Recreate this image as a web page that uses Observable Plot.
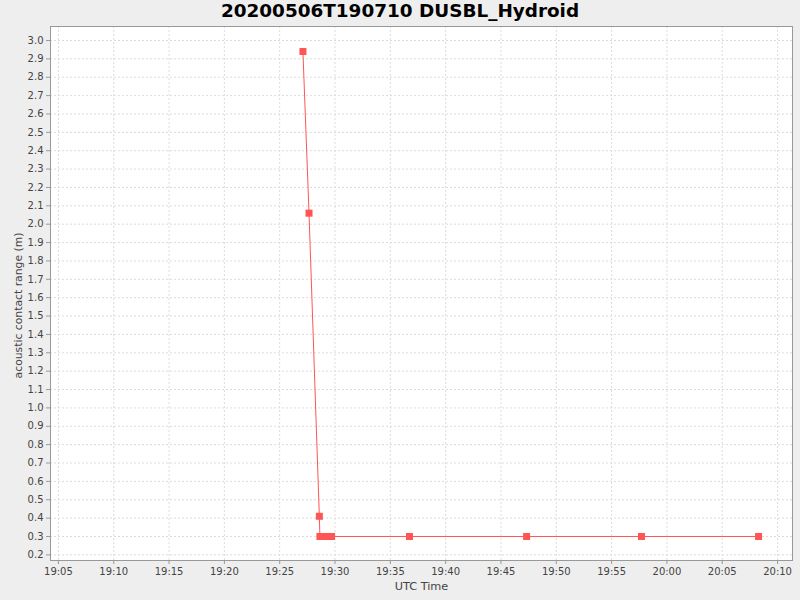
<!DOCTYPE html>
<html>
<head>
<meta charset="utf-8">
<script src="https://cdn.jsdelivr.net/npm/d3@7"></script>
<script src="https://cdn.jsdelivr.net/npm/@observablehq/plot@0.6"></script>
<style>
  html, body { margin: 0; padding: 0; background: #eeeeee; }
  #title { height: 26px; line-height: 26px; text-align: center; font: bold 18.4px "DejaVu Sans", sans-serif; color: #000; }
  #chart svg { display: block; }
</style>
</head>
<body>
<div id="title">20200506T190710 DUSBL_Hydroid</div>
<div id="chart"></div>
<script>
const times = ["19:27:06","19:27:39","19:28:35","19:28:38","19:28:57","19:29:19","19:29:41","19:36:44","19:47:19","19:57:42","20:08:17"];
const ranges = [2.94, 2.06, 0.41, 0.30, 0.30, 0.30, 0.30, 0.30, 0.30, 0.30, 0.30];
const xTickLabels = ["19:05","19:10","19:15","19:20","19:25","19:30","19:35","19:40","19:45","19:50","19:55","20:00","20:05","20:10"];
const yTicks = [0.2,0.3,0.4,0.5,0.6,0.7,0.8,0.9,1.0,1.1,1.2,1.3,1.4,1.5,1.6,1.7,1.8,1.9,2.0,2.1,2.2,2.3,2.4,2.5,2.6,2.7,2.8,2.9,3.0];

const day = "2020-05-06T";
const toDate = s => new Date(day + s + "Z");
const data = times.map((t, i) => ({time: toDate(t), range: ranges[i]}));
const xTicks = xTickLabels.map(s => toDate(s + ":00"));

const fmt = d3.utcFormat("%H:%M");
const red = "#ff5555";

const chart = Plot.plot({
  width: 800,
  height: 574,
  marginTop: 0,
  marginLeft: 50,
  marginRight: 8,
  marginBottom: 40,
  style: {background: "#eeeeee", fontFamily: "DejaVu Sans, sans-serif"},
  x: {type: "utc", domain: [toDate("19:04:17"), toDate("20:11:21")]},
  y: {domain: [0.1693, 3.0762]},
  marks: [
    Plot.frame({fill: "white", stroke: null}),
    Plot.gridX(xTicks, {stroke: "#dcdcdc", strokeOpacity: 1, strokeDasharray: "2,2"}),
    Plot.gridY(yTicks, {stroke: "#dcdcdc", strokeOpacity: 1, strokeDasharray: "2,2"}),
    Plot.frame({stroke: "#999999"}),
    Plot.axisX(xTicks, {tickFormat: fmt, tickSize: 4, tickPadding: 3, fontSize: 10, color: "#444", stroke: "#999", label: null}),
    Plot.axisY(yTicks, {tickFormat: d3.format(".1f"), tickSize: 4, tickPadding: 3, fontSize: 10, color: "#444", stroke: "#999", label: null}),
    Plot.text(["UTC Time"], {frameAnchor: "bottom", dy: 29, fontSize: 11.3, fill: "#444"}),
    Plot.text(["acoustic contact range (m)"], {frameAnchor: "left", textAnchor: "middle", rotate: -90, dx: -32, dy: 12, fontSize: 10.8, fill: "#444"}),
    Plot.line(data, {x: "time", y: "range", stroke: red, strokeWidth: 1}),
    Plot.dot(data, {x: "time", y: "range", symbol: "square", r: 3.95, fill: red, stroke: null})
  ]
});
document.getElementById("chart").appendChild(chart);
</script>
</body>
</html>
